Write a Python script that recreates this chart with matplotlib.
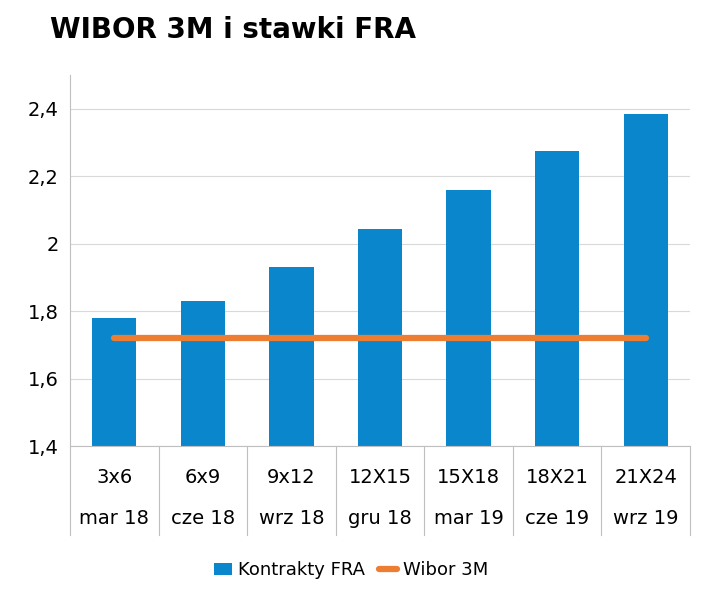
import matplotlib
matplotlib.use("Agg")
import matplotlib.pyplot as plt
from matplotlib.lines import Line2D

contracts = ["3x6", "6x9", "9x12", "12X15", "15X18", "18X21", "21X24"]
months = ["mar 18", "cze 18", "wrz 18", "gru 18", "mar 19", "cze 19", "wrz 19"]
fra = [1.78, 1.83, 1.93, 2.045, 2.16, 2.275, 2.385]
wibor = [1.72] * 7
yticks = [1.4, 1.6, 1.8, 2.0, 2.2, 2.4]
ytick_labels = ["1,4", "1,6", "1,8", "2", "2,2", "2,4"]

fig = plt.figure(figsize=(7.02, 5.91), dpi=100)
ax = fig.add_axes([0.0997, 0.2453, 0.8833, 0.6277])
x = list(range(len(contracts)))
bars = ax.bar(x, fra, width=0.5, color="#0A87CC", label="Kontrakty FRA", zorder=2)
line, = ax.plot(x, wibor, color="#ED7D31", lw=4.5, solid_capstyle="round", label="Wibor 3M", zorder=3)
ax.set_ylim(1.4, 2.5)
ax.set_xlim(-0.5, len(x) - 0.5)
ax.set_yticks(yticks)
ax.set_yticklabels(ytick_labels, fontsize=14)
ax.grid(axis="y", color="#D9D9D9", lw=0.8, zorder=0)
ax.set_xticks([])
for s in ["top", "right"]:
    ax.spines[s].set_visible(False)
ax.spines["left"].set_color("#BFBFBF")
ax.spines["bottom"].set_color("#BFBFBF")
ax.tick_params(axis="y", length=0, pad=8)

trans = ax.get_xaxis_transform()
for i in range(len(x) + 1):
    ax.add_line(Line2D([i - 0.5, i - 0.5], [0, -0.24], transform=trans, color="#BFBFBF", lw=0.8, clip_on=False))
for i, (c, m) in enumerate(zip(contracts, months)):
    ax.text(i, -0.085, c, transform=trans, ha="center", va="center", fontsize=14)
    ax.text(i, -0.195, m, transform=trans, ha="center", va="center", fontsize=14)

fig.text(0.071, 0.949, "WIBOR 3M i stawki FRA", fontsize=20, fontweight="bold", va="center")
fig.legend([bars, line], ["Kontrakty FRA", "Wibor 3M"], loc="center", bbox_to_anchor=(0.5, 0.035),
           ncol=2, frameon=False, fontsize=13, handlelength=1.0, columnspacing=0.8, handletextpad=0.3)
fig.savefig("out.png", dpi=100)
